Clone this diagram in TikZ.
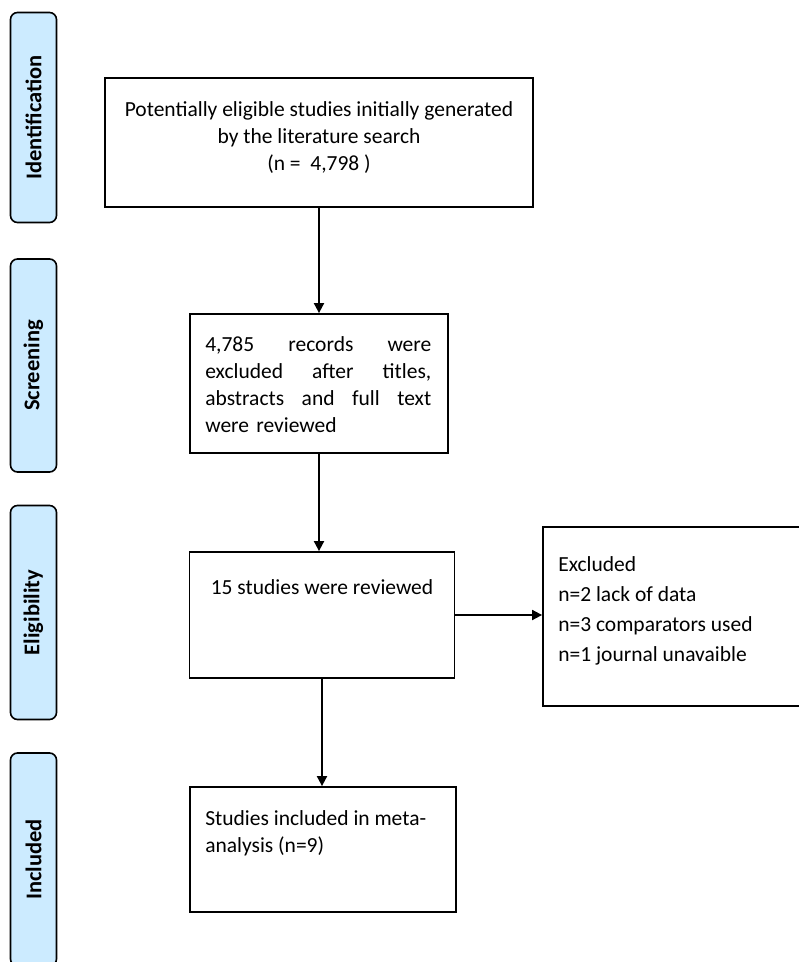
\documentclass[tikz,border=0pt]{standalone}
\usepackage{fontspec}
\setmainfont{Carlito}
\usetikzlibrary{arrows.meta, calc, positioning}

\definecolor{phaseblue}{RGB}{204,235,255}

\begin{document}
\begin{tikzpicture}[x=1pt, y=-1pt, >={Triangle[length=10pt, width=10pt]}]
	\tikzstyle{phase} = [draw, line width=1.6pt, rounded corners=7pt, fill=phaseblue, rotate=90, minimum height=46pt, inner sep=0pt, font=\fontsize{22.5}{24}\bfseries]
	\tikzstyle{box} = [draw, line width=1.8pt, inner sep=0pt]
	\tikzstyle{txt} = [inner sep=0pt, font=\fontsize{21.5}{27}\selectfont]
	\tikzstyle{link} = [->, line width=1.8pt]

	\useasboundingbox (0,0) rectangle (799,962);

	% phases
	\node[phase, minimum width=210pt] (ident) at (33.5,117.5) {Identification};
	\node[phase, minimum width=213pt] (screen) at (33.5,365.5) {Screening};
	\node[phase, minimum width=214pt] (elig) at (33.5,612.5) {Eligibility};
	\node[phase, minimum width=213pt] (incl) at (33.5,859.5) {Included};

	% boxes
	\node[box, minimum width=428pt, minimum height=129pt] (search) at (319,142.5) {};
	\node[box, minimum width=258pt, minimum height=139pt] (titles) at (319,383.5) {};
	\node[box, minimum width=265pt, minimum height=126pt] (review) at (322,615) {};
	\node[box, minimum width=262pt, minimum height=179pt] (excl) at (674,616.5) {};
	\node[box, minimum width=266pt, minimum height=125pt] (meta) at (323,849.5) {};

	% texts
	\node[txt, align=center, below=24pt of search.north] (searchtxt)
		{Potentially eligible studies initially generated\\by the literature search\\(n = \ 4,798 )};
	\node[txt, text width=226pt, anchor=north west] (titlestxt) at ($(titles.north west)+(16,23)$)
		{\makebox[226pt]{4,785\hfill records\hfill were}\\
		 \makebox[226pt]{excluded\hfill after\hfill titles,}\\
		 \makebox[226pt]{abstracts\hfill and\hfill full\hfill text}\\
		 were reviewed};
	\node[txt, anchor=north west] (reviewtxt) at ($(review.north west)+(22,28)$) {15 studies were reviewed};
	\node[txt, align=left, anchor=north west, font=\fontsize{21.5}{30}\selectfont] (excltxt) at ($(excl.north west)+(16,30)$)
		{Excluded\\n=2 lack of data\\n=3 comparators used\\n=1 journal unavaible};
	\node[txt, align=left, anchor=north west] (metatxt) at ($(meta.north west)+(16,24)$)
		{Studies included in meta-\\analysis (n=9)};

	% arrows
	\draw[link] (search.south) -- (titles.north);
	\draw[link] (titles.south) -- (titles.south |- review.north);
	\draw[link] (review.east) -- (review.east -| excl.west);
	\draw[link] (review.south) -- (review.south |- meta.north);
\end{tikzpicture}
\end{document}
